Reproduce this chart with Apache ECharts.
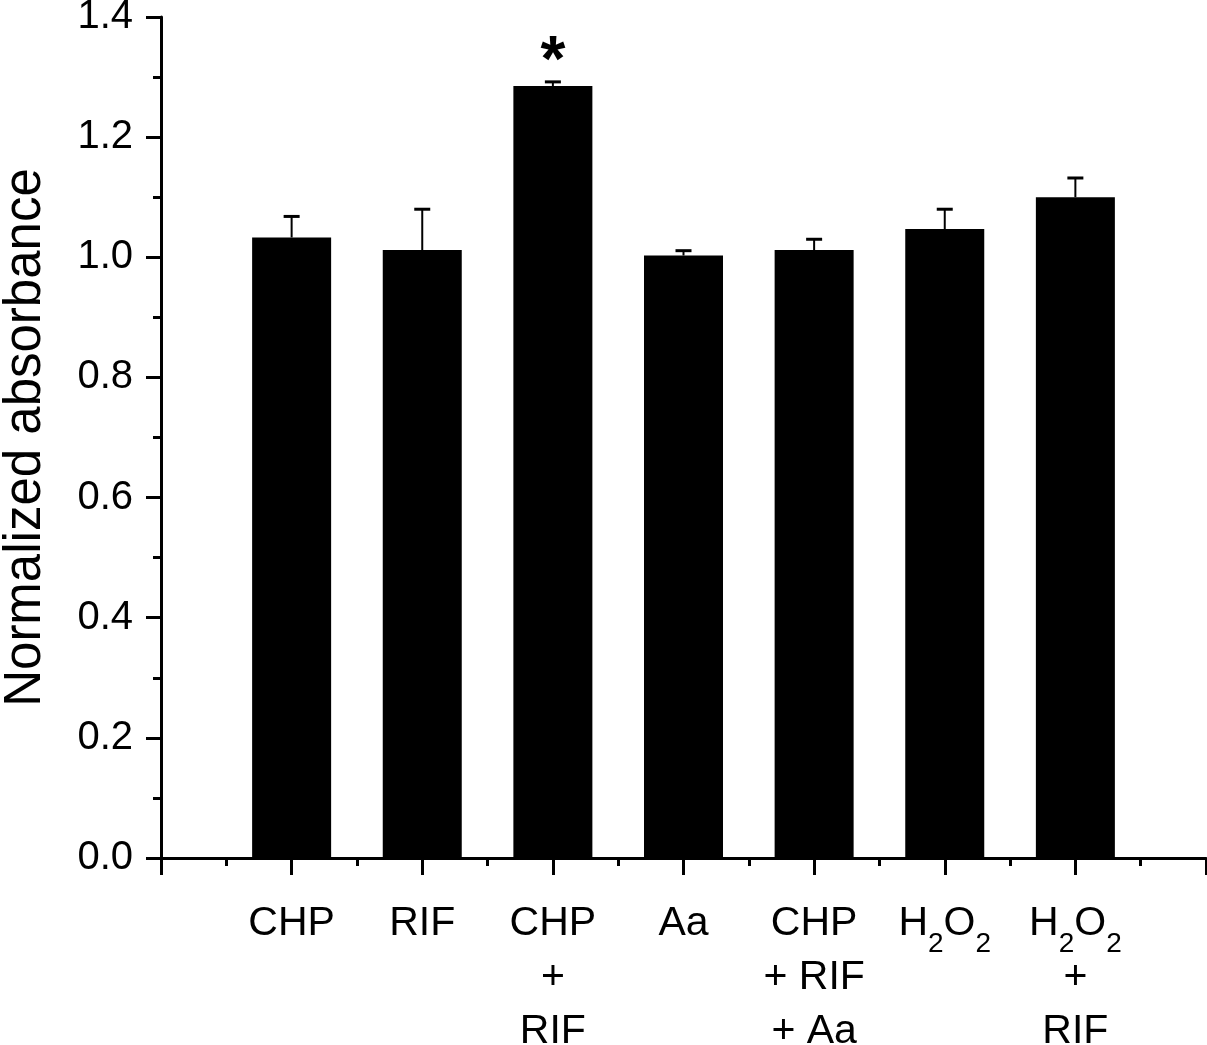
<!DOCTYPE html>
<html>
<head>
<meta charset="utf-8">
<script src="https://cdn.jsdelivr.net/npm/echarts@6/dist/echarts.min.js"></script>
<style>
  html, body { margin: 0; padding: 0; background: #fff; }
  #chart { width: 1207px; height: 1045px; }
</style>
</head>
<body>
<div id="chart"></div>
<script>
// Data
// ------------------------------
var groups = ['CHP', 'RIF', 'CHP\n+\nRIF', 'Aa', 'CHP\n+ RIF\n+ Aa', 'H{sub|2}O{sub|2}', 'H{sub|2}O{sub|2}\n+\nRIF'];
var means = [1.033, 1.012, 1.285, 1.003, 1.012, 1.047, 1.100];
var errors = [0.035, 0.068, 0.007, 0.008, 0.018, 0.033, 0.032];
var significant = [false, false, true, false, false, false, false];

var fontName = '"Liberation Sans", Arial, sans-serif';

var barData = means.map(function (v, i) {
    var item = { value: [i + 1, v] };
    if (significant[i]) {
        item.label = {
            show: true,
            position: 'top',
            distance: -9,
            formatter: '*',
            fontSize: 64,
            fontWeight: 'bold',
            fontFamily: fontName,
            color: '#000'
        };
    }
    return item;
});
var errData = means.map(function (v, i) { return [i + 1, v, v + errors[i]]; });

// Initialize chart
// ------------------------------
var chart = echarts.init(document.getElementById('chart'));

var option = {
    animation: false,
    grid: { left: 161, right: 1, top: 17, bottom: 187, outerBoundsMode: 'none', containLabel: false },

    xAxis: {
        type: 'value',
        min: 0,
        max: 8,
        interval: 1,
        splitLine: { show: false },
        axisLine: { lineStyle: { color: '#000', width: 3 } },
        axisTick: { length: 17, lineStyle: { color: '#000', width: 3 } },
        minorTick: { show: true, splitNumber: 2, length: 8, lineStyle: { color: '#000', width: 3 } },
        minorSplitLine: { show: false },
        axisLabel: {
            margin: 39,
            color: '#000',
            fontSize: 41,
            lineHeight: 54,
            fontFamily: fontName,
            verticalAlign: 'top',
            formatter: function (v) {
                return (v >= 1 && v <= groups.length) ? groups[v - 1] : '';
            },
            rich: {
                sub: {
                    fontSize: 28, fontFamily: fontName, color: '#000',
                    lineHeight: 54, verticalAlign: 'top', padding: [33, 0, 0, 0]
                }
            }
        }
    },

    yAxis: {
        type: 'value',
        min: 0,
        max: 1.4,
        interval: 0.2,
        name: 'Normalized absorbance',
        nameLocation: 'middle',
        nameGap: 110,
        nameTextStyle: { fontSize: 51, color: '#000', fontFamily: fontName },
        splitLine: { show: false },
        axisLine: { show: true, lineStyle: { color: '#000', width: 3 } },
        axisTick: { length: 15, lineStyle: { color: '#000', width: 3 } },
        minorTick: { show: true, splitNumber: 2, length: 8, lineStyle: { color: '#000', width: 3 } },
        axisLabel: {
            margin: 28,
            color: '#000',
            fontSize: 40,
            fontFamily: fontName,
            formatter: function (v) { return v.toFixed(1); }
        }
    },

    series: [{
        type: 'bar',
        barWidth: 79,
        itemStyle: { color: '#000' },
        data: barData,
        z: 2
    }, {
        type: 'custom',
        data: errData,
        z: 3,
        renderItem: function (params, api) {
            var x = api.value(0);
            var base = api.coord([x, api.value(1)]);
            var top = api.coord([x, api.value(2)]);
            var half = 8;
            return {
                type: 'group',
                children: [{
                    type: 'line',
                    shape: { x1: base[0], y1: base[1], x2: top[0], y2: top[1] },
                    style: { stroke: '#000', lineWidth: 2 }
                }, {
                    type: 'line',
                    shape: { x1: top[0] - half, y1: top[1], x2: top[0] + half, y2: top[1] },
                    style: { stroke: '#000', lineWidth: 3 }
                }]
            };
        }
    }]
};

chart.setOption(option);
</script>
</body>
</html>
